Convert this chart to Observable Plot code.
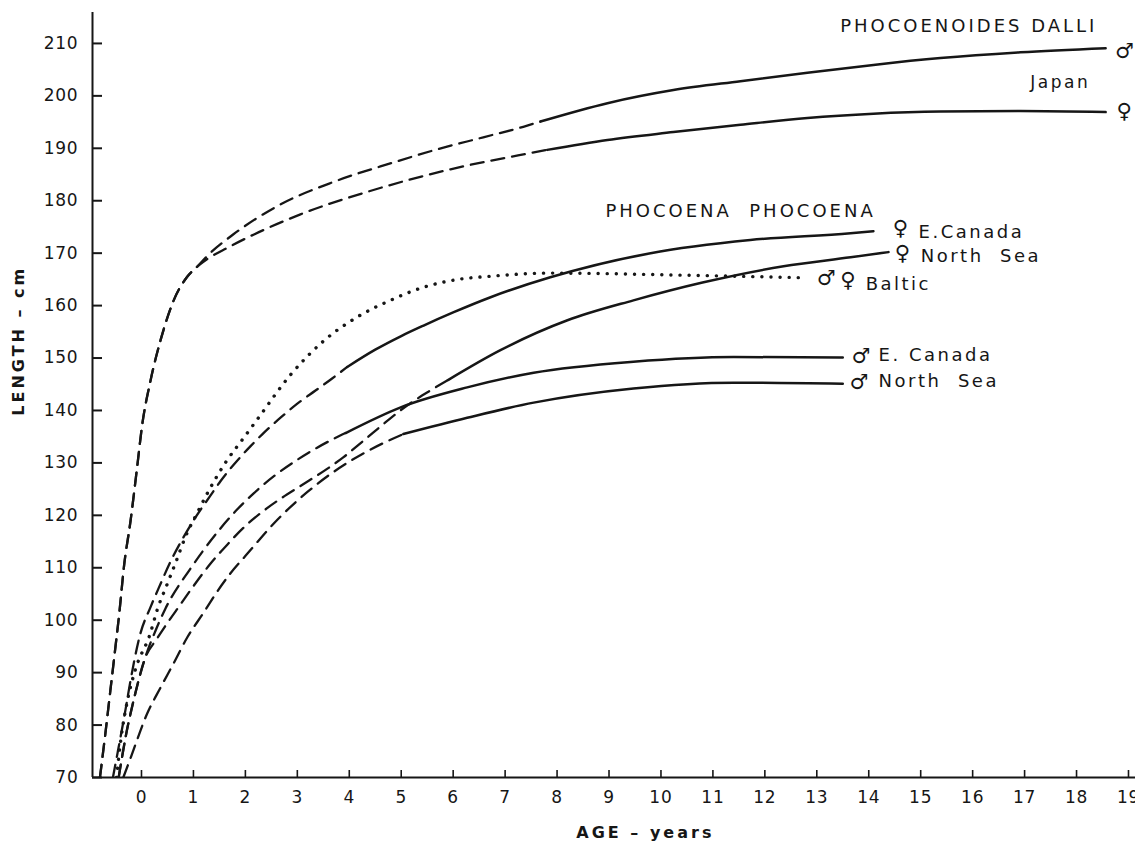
<!DOCTYPE html>
<html><head><meta charset="utf-8">
<script src="https://cdn.jsdelivr.net/npm/d3@7"></script>
<script src="https://cdn.jsdelivr.net/npm/@observablehq/plot@0.6"></script>
<style>
html,body{margin:0;padding:0;background:#fff;}
#chart svg text{white-space:pre;}
.tk text{letter-spacing:0.8px;}
.axt text{letter-spacing:3px;}
</style></head><body><div id="chart"></div>
<script>
// ---------------- data ----------------
const xTicks = [0,1,2,3,4,5,6,7,8,9,10,11,12,13,14,15,16,17,18,19];
const yTicks = [70,80,90,100,110,120,130,140,150,160,170,180,190,200,210];

// Phocoenoides dalli, Japan
const dalliMaleAge = [-0.8,-0.7,-0.6,-0.5,-0.42,-0.34,-0.21,-0.08,0.01,0.17,0.37,0.62,0.88,1.07,1.3,1.77,2.62,3.7,4.85,5.62,6.58,7.35,7.68,8.97,10.24,11.53,12.82,14.09,15.38,16.92,18.56];
const dalliMaleLen = [70,78,86.5,95,102,110,119,129.5,137,145.5,153.5,161,165.5,167.4,169.8,173.6,179,183.6,187.3,189.6,192.1,194.1,195.1,198.6,201.1,202.8,204.4,205.9,207.2,208.3,209.1];
const dalliMaleSolidFrom = 7.68;

const dalliFemaleAge = [-0.8,-0.7,-0.6,-0.5,-0.42,-0.34,-0.21,-0.08,0.01,0.17,0.37,0.62,0.88,1.07,1.27,1.65,3.06,4.35,5.95,7.49,7.81,8.97,10.24,11.53,12.82,14.09,15.38,16.92,18.56];
const dalliFemaleLen = [70,78,86.5,95,102,110,119,129.5,137,145.5,153.5,161,165.5,167.4,168.9,171,177.4,181.7,186,189.1,189.7,191.6,193.1,194.5,195.8,196.6,197.0,197.1,196.9];
const dalliFemaleSolidFrom = 7.81;

// Phocoena phocoena
const fEcAge = [-0.55,-0.46,-0.31,-0.22,-0.02,0.17,0.37,0.56,0.79,1.0,1.33,1.52,1.77,2.1,2.32,2.71,3.0,3.35,3.67,3.96,4.5,5.0,5.43,6.0,6.72,7.87,9.8,11.72,13.65,14.09];
const fEcLen = [70,74.7,82.8,88,97.5,102.4,107,111.2,115.5,119,123.8,126.5,129.6,133.2,135.4,138.9,141.3,143.8,146.1,148.3,151.6,154.2,156.2,158.7,161.6,165.4,170,172.5,173.8,174.2];
const fEcSolidFrom = 3.96;

const fNsAge = [-0.44,-0.3,-0.12,0.06,0.3,0.48,0.75,1.0,1.33,1.66,1.97,2.29,2.68,3.06,3.58,3.89,4.27,4.73,5.12,5.56,5.9,6.91,8.2,9.47,10.8,12.36,13.65,14.38];
const fNsLen = [70,78,86,92.5,96.5,99.2,103,106.5,110.8,114.5,117.7,120.4,123.2,125.6,128.9,131.1,134.2,138,141,143.8,145.8,151.5,157.2,161,164.4,167.5,169.2,170.2];
const fNsSolidFrom = 5.9;

const mEcAge = [-0.44,-0.3,-0.12,0.06,0.27,0.46,0.94,1.19,1.52,1.85,2.16,2.62,3.0,3.31,3.7,3.93,4.99,6.27,7.55,9.47,11.4,13.5];
const mEcLen = [70,78,86,92.5,98,102.2,109.8,113.3,117.5,121.2,124.2,128,130.6,132.5,134.6,135.7,140.6,144.4,147.2,149.3,150.2,150.1];
const mEcSolidFrom = 3.93;

const mNsAge = [-0.35,-0.2,0.11,0.37,0.62,0.88,1.2,1.46,1.71,2.04,2.29,2.62,3.2,3.7,4.27,4.66,5.04,6.27,7.55,9.47,11.4,13.5];
const mNsLen = [70,74,82.2,87.2,91.8,96.7,101.5,105.5,108.9,112.7,115.6,119.2,124.5,128.3,131.8,133.8,135.5,138.6,141.5,144.2,145.3,145.1];
const mNsSolidFrom = 5.04;

const balticAge = [-0.48,-0.4,-0.27,-0.12,0.17,0.3,0.5,0.67,0.85,1.08,1.3,1.62,1.97,2.23,2.87,3.5,4.15,4.79,5.43,6.1,6.72,7.87,10.43,12.8];
const balticLen = [70,77,84.7,90.5,97.5,101.9,107,111.3,116,120.6,124.8,130.1,134.8,138.3,146.8,153.2,157.8,161,163.5,165,165.6,166.2,165.8,165.3];

// ---------------- build tables ----------------
function rows(series, ages, lens) {
  return ages.map((a, i) => ({series, age: a, len: lens[i]}));
}
function split(series, ages, lens, solidFrom) {
  const r = rows(series, ages, lens);
  return {dashed: r.filter(d => d.age <= solidFrom), solid: r.filter(d => d.age >= solidFrom)};
}
const parts = [
  split("dalliM", dalliMaleAge, dalliMaleLen, dalliMaleSolidFrom),
  split("dalliF", dalliFemaleAge, dalliFemaleLen, dalliFemaleSolidFrom),
  split("fEc", fEcAge, fEcLen, fEcSolidFrom),
  split("fNs", fNsAge, fNsLen, fNsSolidFrom),
  split("mEc", mEcAge, mEcLen, mEcSolidFrom),
  split("mNs", mNsAge, mNsLen, mNsSolidFrom)
];
const dashedRows = parts.flatMap(p => p.dashed);
const solidRows = parts.flatMap(p => p.solid);
const balticRows = rows("baltic", balticAge, balticLen);

// ---------------- layout ----------------
const W = 1135, H = 841;
const mL = 92, mR = 0, mT = 12, mB = 64;
const xMin = -0.943, xMax = 19.135, yMin = 70, yMax = 215.9;
const pxPerX = (W - mL - mR) / (xMax - xMin);
const pxPerY = (H - mT - mB) / (yMax - yMin);
const ink = "#161616";

const annotations = [
  {t: "PHOCOENOIDES DALLI", x: 13.45, y: 213.3, s: 18, ls: "3px"},
  {t: "Japan", x: 17.11, y: 202.6, s: 17, ls: "2.5px"},
  {t: "PHOCOENA  PHOCOENA", x: 8.93, y: 178, s: 18, ls: "3px"},
  {t: "E.Canada", x: 14.96, y: 173.9, s: 18, ls: "2.5px"},
  {t: "North  Sea", x: 15.0, y: 169.4, s: 18, ls: "2.5px"},
  {t: "Baltic", x: 13.94, y: 164.0, s: 18, ls: "2.5px"},
  {t: "E. Canada", x: 14.19, y: 150.6, s: 18, ls: "2.5px"},
  {t: "North  Sea", x: 14.19, y: 145.6, s: 18, ls: "2.5px"}
];
const symbols = [
  {t: "♂", x: 18.74, y: 208.6},
  {t: "♀", x: 18.77, y: 197.0},
  {t: "♀", x: 14.46, y: 174.8},
  {t: "♀", x: 14.5, y: 169.9},
  {t: "♂", x: 13.0, y: 165.3},
  {t: "♀", x: 13.45, y: 164.8},
  {t: "♂", x: 13.67, y: 150.4},
  {t: "♂", x: 13.63, y: 145.4}
];

const lineCurve = "monotone-x";
const chart = Plot.plot({
  width: W, height: H,
  marginLeft: mL, marginRight: mR, marginTop: mT, marginBottom: mB,
  x: {domain: [xMin, xMax]},
  y: {domain: [yMin, yMax]},
  style: {fontFamily: "'DejaVu Sans', sans-serif", fontSize: "17px", color: ink, background: "#fff"},
  marks: [
    // axes lines
    Plot.ruleX([xMin], {y1: yMin, y2: yMax, stroke: ink, strokeWidth: 2}),
    Plot.ruleY([yMin], {x1: xMin, x2: xMax, stroke: ink, strokeWidth: 2}),
    // inward ticks
    Plot.ruleY(yTicks, {x1: xMin, x2: xMin + 10 / pxPerX, stroke: ink, strokeWidth: 2}),
    Plot.ruleX(xTicks, {y1: yMin, y2: yMin + 7 / pxPerY, stroke: ink, strokeWidth: 1.6}),
    Plot.axisY(yTicks, {tickSize: 0, tickPadding: 14, label: null, fontSize: 17, className: "tk"}),
    Plot.axisX(xTicks, {tickSize: 0, tickPadding: 13, label: null, fontSize: 17, className: "tk"}),
    // curves
    Plot.line(dashedRows, {x: "age", y: "len", z: "series", curve: lineCurve, stroke: ink, strokeWidth: 2.3, strokeDasharray: "13,8", clip: true}),
    Plot.line(solidRows, {x: "age", y: "len", z: "series", curve: lineCurve, stroke: ink, strokeWidth: 2.5, clip: true}),
    Plot.line(balticRows, {x: "age", y: "len", curve: lineCurve, stroke: ink, strokeWidth: 3.4, strokeDasharray: "0.1,9", strokeLinecap: "round", clip: true}),
    // annotations
    Plot.text(annotations, {x: "x", y: "y", text: "t", fontSize: "s", textAnchor: "start", fill: ink, className: "ann"}),
    Plot.text(symbols, {x: "x", y: "y", text: "t", fontSize: 21, textAnchor: "start", fill: ink}),
    Plot.text(["AGE – years"], {x: 9.7, y: yMin, dy: 55, text: d => d, fontSize: 16, fontWeight: "bold", textAnchor: "middle", fill: ink, className: "axt"}),
    Plot.text(["LENGTH – cm"], {x: xMin, y: 153.3, dx: -74, rotate: -90, text: d => d, fontSize: 16, fontWeight: "bold", textAnchor: "middle", fill: ink, className: "axt"})
  ]
});
document.getElementById("chart").appendChild(chart);
// letter spacing per annotation
d3.select(chart).selectAll("g.ann text").each(function(i) {
  const a = annotations[i];
  if (a) d3.select(this).style("letter-spacing", a.ls);
});
</script></body></html>
